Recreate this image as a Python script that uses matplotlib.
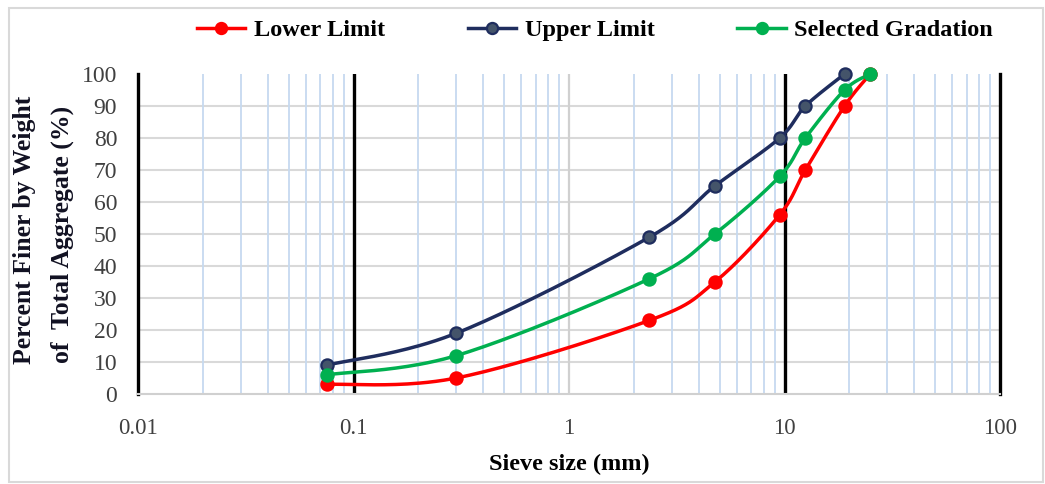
import numpy as np
import matplotlib
matplotlib.use("Agg")
import matplotlib.pyplot as plt
from matplotlib.patches import Rectangle
from matplotlib.lines import Line2D

# ---- data ----
sieve_lower = [0.075, 0.3, 2.36, 4.75, 9.5, 12.5, 19, 25]
lower_limit = [3, 5, 23, 35, 56, 70, 90, 100]
sieve_upper = [0.075, 0.3, 2.36, 4.75, 9.5, 12.5, 19]
upper_limit = [9, 19, 49, 65, 80, 90, 100]
sieve_sel = [0.075, 0.3, 2.36, 4.75, 9.5, 12.5, 19, 25]
selected = [6, 12, 36, 50, 68, 80, 95, 100]
x_ticks = [0.01, 0.1, 1, 10, 100]
x_tick_labels = ["0.01", "0.1", "1", "10", "100"]
y_ticks = list(range(0, 101, 10))

W, H = 1045, 484
fig = plt.figure(figsize=(W / 100, H / 100), dpi=100)
ax = fig.add_axes([138 / W, 1 - 394 / H, (1000 - 138) / W, (394 - 74) / H])

SERIF = ["Liberation Serif", "DejaVu Serif"]

# pixel scale used for Excel-like smoothing
XPX = (1000 - 138) / 4.0
YPX = (394 - 74) / 100.0


def smooth(xs, ys, n=40):
    p = np.column_stack([np.log10(xs) * XPX, np.asarray(ys, float) * YPX])
    out = []
    m = len(p)
    for i in range(m - 1):
        p0 = p[max(i - 1, 0)]
        p1 = p[i]
        p2 = p[i + 1]
        p3 = p[min(i + 2, m - 1)]
        c1 = p1 + (p2 - p0) / 6.0
        c2 = p2 - (p3 - p1) / 6.0
        t = np.linspace(0, 1, n)[:, None]
        seg = ((1 - t) ** 3) * p1 + 3 * ((1 - t) ** 2) * t * c1 + 3 * (1 - t) * t ** 2 * c2 + t ** 3 * p2
        out.append(seg if i == 0 else seg[1:])
    c = np.vstack(out)
    return 10 ** (c[:, 0] / XPX), c[:, 1] / YPX


RED = "#FF0000"
NAVY = "#1F2D5E"
GREEN = "#00B050"

ax.set_xscale("log")
ax.set_xlim(0.01, 100)
ax.set_ylim(0, 100)

# grid
for y in y_ticks[1:-1]:
    ax.axhline(y, color="#D9D9D9", lw=1.5, zorder=0)
for dec in [0.01, 0.1, 1, 10]:
    for k in range(2, 10):
        ax.axvline(dec * k, color="#C6D9F0", lw=1.3, zorder=0)
ax.axvline(1, color="#D0D0D0", lw=1.6, zorder=0.5)
for xv in [0.1, 10]:
    ax.axvline(xv, color="black", lw=2.4, zorder=1)

ax.spines["top"].set_visible(False)
ax.spines["bottom"].set_color("#D0D0D0")
ax.spines["bottom"].set_linewidth(1.5)
for s in ["left", "right"]:
    ax.spines[s].set_color("black")
    ax.spines[s].set_linewidth(2.4)

series = [
    (sieve_lower, lower_limit, RED, RED, RED, "Lower Limit"),
    (sieve_upper, upper_limit, NAVY, "#44546A", NAVY, "Upper Limit"),
    (sieve_sel, selected, GREEN, GREEN, GREEN, "Selected Gradation"),
]
handles = []
for xs, ys, lc, fc, ec, lab in series:
    sx, sy = smooth(xs, ys)
    ax.plot(sx, sy, color=lc, lw=2.5, zorder=3, solid_capstyle="round")
    ax.plot(xs, ys, ls="none", marker="o", ms=8.8, mfc=fc, mec=ec, mew=1.6, zorder=4, clip_on=False)
    handles.append(Line2D([], [], color=lc, lw=2.5, marker="o", ms=8, mfc=fc, mec=ec, mew=1.6))

ax.set_xticks(x_ticks)
ax.set_xticklabels(x_tick_labels)
ax.xaxis.set_minor_locator(matplotlib.ticker.NullLocator())
ax.set_yticks(y_ticks)
ax.tick_params(length=0, labelcolor="#404040")
ax.tick_params(axis="y", pad=15, labelsize=17)
ax.tick_params(axis="x", pad=17, labelsize=16.5)
for lbl in ax.get_xticklabels() + ax.get_yticklabels():
    lbl.set_family(SERIF)

ax.set_xlabel("Sieve size (mm)", family=SERIF, fontweight="bold", fontsize=17.5, color="black", labelpad=11)

fig.text(25 / W, 1 - 230 / H, "Percent Finer by Weight", rotation=90, ha="center", va="center",
         family=SERIF, fontweight="bold", fontsize=18.5, color="#111122")
fig.text(62 / W, 1 - 234 / H, "of  Total Aggregate (%)", rotation=90, ha="center", va="center",
         family=SERIF, fontweight="bold", fontsize=18.5, color="#111122")

leg = fig.legend(handles, [s[5] for s in series], loc="center", bbox_to_anchor=(595 / W, 1 - 30 / H),
                 ncol=3, frameon=False, handlelength=2.0, handletextpad=0.35, columnspacing=3.4,
                 prop={"family": SERIF, "weight": "bold", "size": 17.5})

fig.patches.append(Rectangle((9 / W, 2 / H), (W - 11) / W, (H - 10) / H, transform=fig.transFigure,
                             fill=False, edgecolor="#D9D9D9", lw=1.5))

fig.savefig("out.png", dpi=100, facecolor="white")
